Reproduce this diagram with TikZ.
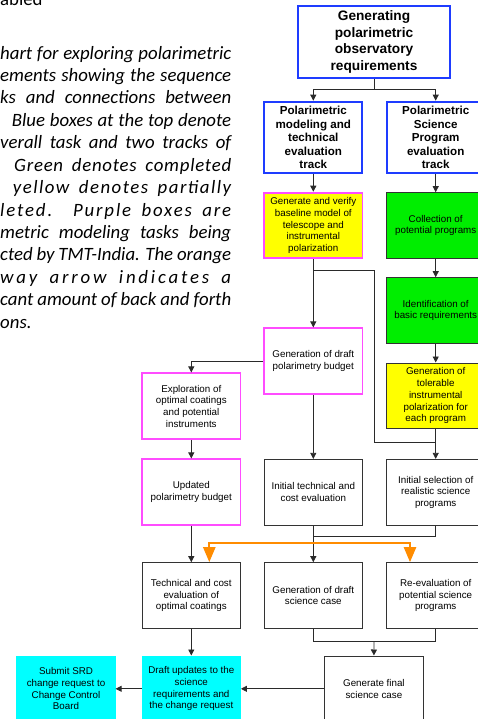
\documentclass[tikz,border=0pt]{standalone}
\usepackage{fontspec}
\setmainfont{Liberation Sans}
\newfontfamily\capfont{Carlito}
\usetikzlibrary{arrows.meta}

\begin{document}
\begin{tikzpicture}[x=1pt, y=-1pt,
  box/.style={draw=edgegray, line width=0.9pt, minimum width=98.3pt, minimum height=65.7pt, inner sep=0pt, align=center, font=\fontsize{9.8}{11.7}\selectfont},
  trackbox/.style={box, draw=trackblue, line width=2pt, minimum height=71.6pt, font=\bfseries\fontsize{11.6}{13.6}\selectfont},
  titlebox/.style={trackbox, minimum width=152.6pt, minimum height=72pt, font=\bfseries\fontsize{13.7}{16.8}\selectfont},
  modelbox/.style={box, draw=modelpink, line width=1.8pt},
  donebox/.style={box, fill=donegreen},
  partbox/.style={box, fill=partyellow},
  srdbox/.style={box, draw=srdcyan, fill=srdcyan},
  link/.style={draw=linegray, line width=0.8pt},
  linkarrow/.style={link, -{Triangle[length=6pt, width=6pt]}},
  twoway/.style={draw=twoorange, line width=2.3pt, {Triangle[length=15pt, width=12pt]}-{Triangle[length=15pt, width=12pt]}},
  capline/.style={anchor=base west, inner sep=0pt, font=\capfont\itshape\fontsize{18.8}{22.4}\selectfont}
]
\definecolor{edgegray}{HTML}{333333}
\definecolor{linegray}{HTML}{2A2A2A}
\definecolor{trackblue}{HTML}{1E3CFF}
\definecolor{modelpink}{HTML}{FF4CFF}
\definecolor{donegreen}{HTML}{00EE00}
\definecolor{partyellow}{HTML}{FFFF00}
\definecolor{srdcyan}{HTML}{00FFFF}
\definecolor{twoorange}{HTML}{FF8C00}
\useasboundingbox (0,0) rectangle (477,719);

\node[anchor=base west, inner sep=0pt, font=\capfont\fontsize{18.8}{22.4}\selectfont] (cap0) at (0,5.4) {abled};
\node[capline] (cap1) at (0,59.2) {\makebox[231pt][s]{hart for exploring polarimetric}};
\node[capline] (cap2) at (0,81.6) {\makebox[231pt][s]{ements showing the sequence}};
\node[capline] (cap3) at (0,104.0) {\makebox[231pt][s]{ks and connections between}};
\node[capline] (cap4) at (11.7,126.4) {\makebox[219.3pt][s]{Blue boxes at the top denote}};
\node[capline] (cap5) at (0,148.8) {\makebox[231pt][s]{verall task and two tracks of}};
\node[capline] (cap6) at (14,171.2) {\makebox[217pt][s]{\addfontfeature{LetterSpace=4}Green denotes completed}};
\node[capline] (cap7) at (12.7,193.6) {\makebox[218.3pt][s]{\addfontfeature{LetterSpace=8}yellow denotes partially}};
\node[capline] (cap8) at (0,216.0) {\makebox[231pt][s]{\addfontfeature{LetterSpace=10}leted. Purple boxes are}};
\node[capline] (cap9) at (0,238.4) {\makebox[231pt][s]{metric modeling tasks being}};
\node[capline] (cap10) at (0,260.8) {\makebox[231pt][s]{cted by TMT-India. The orange}};
\node[capline] (cap11) at (0,283.2) {\makebox[231pt][s]{\addfontfeature{LetterSpace=15}way arrow indicates a}};
\node[capline] (cap12) at (0,305.6) {\makebox[231pt][s]{cant amount of back and forth}};
\node[capline] (cap13) at (0,328.0) {ons.};

\node[titlebox] (title) at (374,42) {Generating\\polarimetric\\observatory\\requirements};
\node[trackbox] (modtrack) at (313.3,137.5) {Polarimetric\\modeling and\\technical\\evaluation\\track};
\node[trackbox] (scitrack) at (435.7,137.5) {Polarimetric\\Science\\Program\\evaluation\\track};
\node[modelbox, fill=partyellow] (baseline) at (313.3,225.5) {Generate and verify\\baseline model of\\telescope and\\instrumental\\polarization};
\node[donebox] (collect) at (435.7,225.5) {Collection of\\potential programs};
\node[donebox] (identify) at (435.7,310.5) {Identification of\\basic requirements};
\node[partbox] (tolerable) at (435.7,395.8) {Generation of\\tolerable\\instrumental\\polarization for\\each program};
\node[modelbox] (polbudget) at (313.3,361.2) {Generation of draft\\polarimetry budget};
\node[modelbox] (explore) at (191.3,406.2) {Exploration of\\optimal coatings\\and potential\\instruments};
\node[modelbox] (updated) at (191.3,492.2) {Updated\\polarimetry budget};
\node[box] (inittech) at (313.3,492.2) {Initial technical and\\cost evaluation};
\node[box] (initsel) at (435.7,492.2) {Initial selection of\\realistic science\\programs};
\node[box] (techcost) at (191.3,595.5) {Technical and cost\\evaluation of\\optimal coatings};
\node[box] (draftcase) at (313.3,595.5) {Generation of draft\\science case};
\node[box] (reeval) at (435.7,595.5) {Re-evaluation of\\potential science\\programs};
\node[box] (finalcase) at (373.9,688.8) {Generate final\\science case};
\node[srdbox] (draftupd) at (191.3,688.8) {Draft updates to the\\science\\requirements and\\the change request};
\node[srdbox] (submit) at (66,688.8) {Submit SRD\\change request to\\Change Control\\Board};

\coordinate (split) at (374,89);
\coordinate (fork) at (313.3,270.7);
\coordinate (detour) at (374,442.7);
\coordinate (merge) at (313.3,536);
\coordinate (hopL) at (209.3,543.3);
\coordinate (hopR) at (410,543.3);
\coordinate (gather) at (374,641.7);

\draw[link] (title.south) -- (split);
\draw[linkarrow] (split) -| (modtrack.north);
\draw[linkarrow] (split) -| (scitrack.north);
\draw[linkarrow] (modtrack.south) -- (baseline.north);
\draw[linkarrow] (scitrack.south) -- (collect.north);
\draw[linkarrow] (baseline.south) -- (polbudget.north);
\draw[link] (fork) -| (detour) -- (detour -| initsel.north);
\draw[linkarrow] (collect.south) -- (identify.north);
\draw[linkarrow] (identify.south) -- (tolerable.north);
\draw[linkarrow] (tolerable.south) -- (initsel.north);
\draw[linkarrow] (polbudget.west) -| (explore.north);
\draw[linkarrow] (polbudget.south) -- (inittech.north);
\draw[linkarrow] (explore.south) -- (updated.north);
\draw[linkarrow] (updated.south) -- (techcost.north);
\draw[link] (initsel.south) |- (merge);
\draw[linkarrow] (inittech.south) -- (draftcase.north);
\draw[twoway] (techcost.north -| hopL) -- (hopL) -- (hopR) -- (reeval.north -| hopR);
\draw[link] (draftcase.south) |- (gather) -| (reeval.south);
\draw[linkarrow] (gather) -- (finalcase.north);
\draw[linkarrow] (techcost.south) -- (draftupd.north);
\draw[linkarrow] (finalcase.west) -- (draftupd.east);
\draw[linkarrow] (draftupd.west) -- (submit.east);
\end{tikzpicture}
\end{document}
